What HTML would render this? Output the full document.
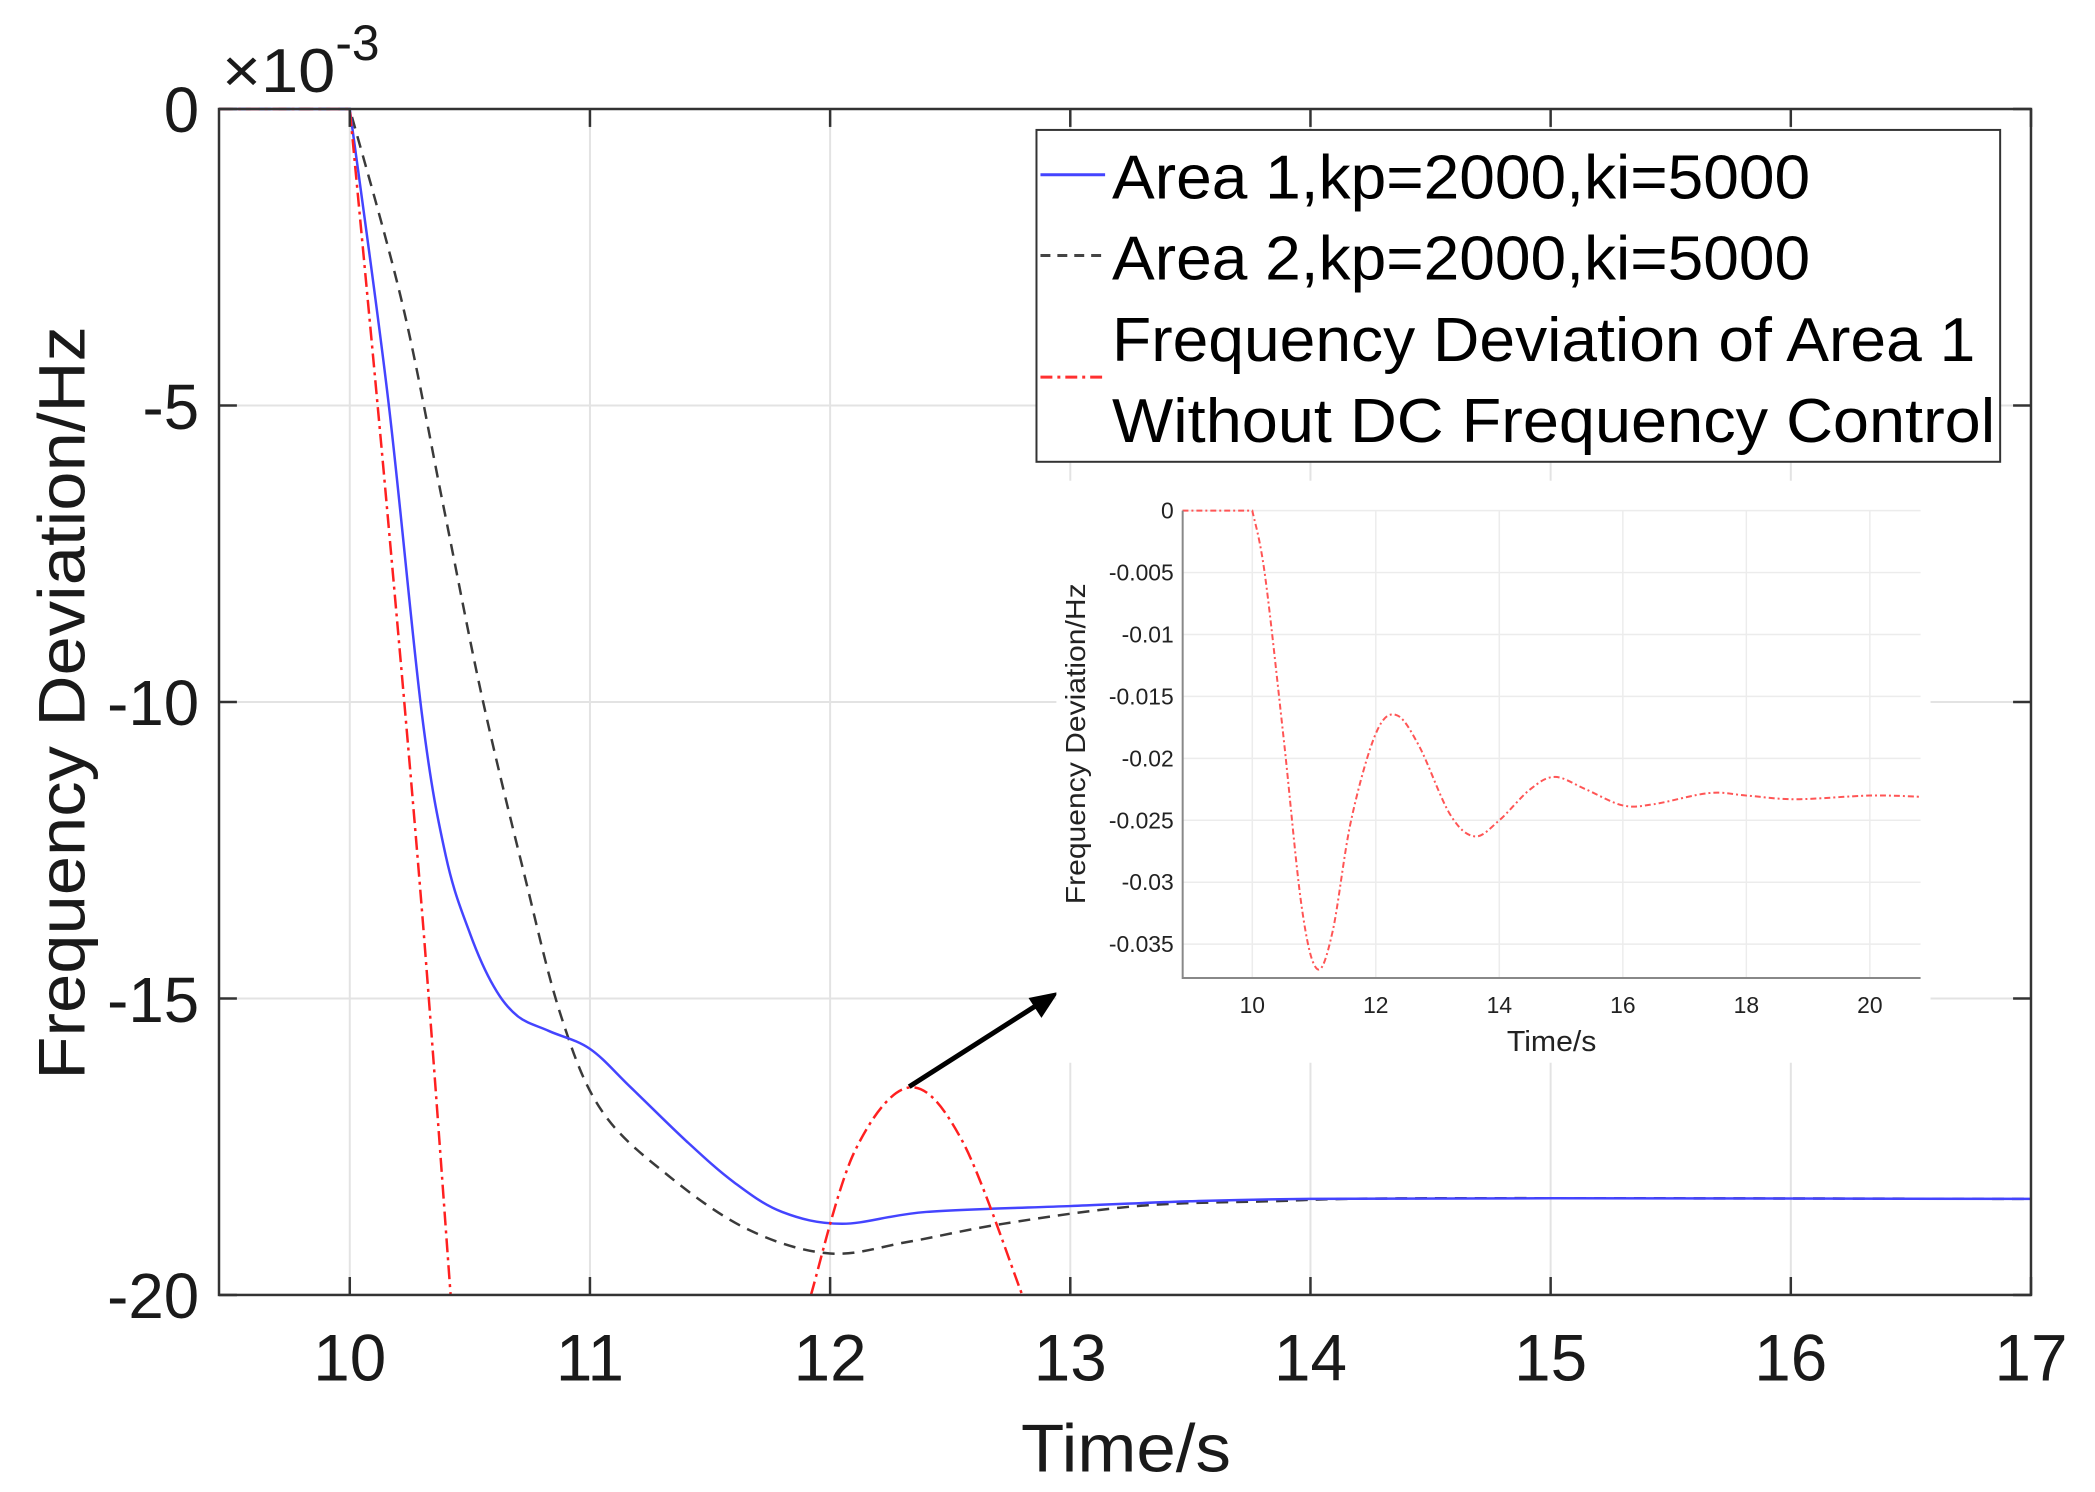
<!DOCTYPE html>
<html><head><meta charset="utf-8"><style>
html,body{margin:0;padding:0;background:#fff;width:2095px;height:1492px;overflow:hidden}
svg{display:block;font-family:"Liberation Sans",Arial,sans-serif}
</style></head><body>
<svg id="s" width="2095" height="1492" viewBox="0 0 2095 1492" xmlns="http://www.w3.org/2000/svg">
<rect width="2095" height="1492" fill="#fff"/>
<g transform="translate(219,109) scale(0.9945,0.9966) translate(-219,-111)">
<g id="grid" stroke="#e3e3e3" stroke-width="2"></g>
<g id="series"></g>
<rect x="219" y="111" width="1822" height="1190" fill="none" stroke="#333" stroke-width="2.5"/>
<g id="ticks" stroke="#333" stroke-width="2.5"></g>
<g font-size="64" fill="#1a1a1a" text-anchor="end">
<text x="199" y="134">0</text>
<text x="199" y="432">-5</text>
<text x="199" y="729">-10</text>
<text x="199" y="1027">-15</text>
<text x="199" y="1324">-20</text>
</g>
<g id="xl" font-size="66" fill="#1a1a1a" text-anchor="middle"></g>
<text x="222" y="94" font-size="62" fill="#1a1a1a" textLength="114" lengthAdjust="spacingAndGlyphs">×10</text>
<text x="336" y="62" font-size="50" fill="#1a1a1a">-3</text>
<text x="1131" y="1478" font-size="68" fill="#1a1a1a" text-anchor="middle" textLength="211" lengthAdjust="spacingAndGlyphs">Time/s</text>
<text transform="translate(84,707) rotate(-90)" font-size="66" fill="#1a1a1a" text-anchor="middle" textLength="756" lengthAdjust="spacingAndGlyphs">Frequency Deviation/Hz</text>
<!-- legend -->
<rect x="1041" y="132" width="969" height="333" fill="#fff" stroke="#333" stroke-width="2"/>
<line x1="1045" y1="177" x2="1110" y2="177" stroke="#4444ff" stroke-width="3"/>
<line x1="1045" y1="258" x2="1110" y2="258" stroke="#444" stroke-width="3" stroke-dasharray="10,7"/>
<line x1="1045" y1="380" x2="1110" y2="380" stroke="#ff3030" stroke-width="3" stroke-dasharray="12,5,3,5"/>
<g font-size="62" fill="#000">
<text x="1117" y="201" textLength="702" lengthAdjust="spacingAndGlyphs">Area 1,kp=2000,ki=5000</text>
<text x="1117" y="282" textLength="702" lengthAdjust="spacingAndGlyphs">Area 2,kp=2000,ki=5000</text>
<text x="1117" y="364" textLength="868" lengthAdjust="spacingAndGlyphs">Frequency Deviation of Area 1</text>
<text x="1117" y="445" textLength="888" lengthAdjust="spacingAndGlyphs">Without DC Frequency Control</text>
</g>
<!-- arrow -->
<line x1="913" y1="1092" x2="1048" y2="1006" stroke="#000" stroke-width="5"/>
<polygon points="1063,997 1033,1003 1046,1023" fill="#000"/>
<!-- inset -->
<rect x="1061" y="484" width="879" height="584" fill="#fff"/>
<g id="igrid" stroke="#ececec" stroke-width="1.5"></g>
<path id="ired" fill="none" stroke="#ff5555" stroke-width="2" stroke-dasharray="6,3,2,3"/>
<polyline points="1188,514 1188,983 1930,983" fill="none" stroke="#888" stroke-width="2"/>
<g id="iyl" font-size="23" fill="#222" text-anchor="end"></g>
<g id="ixl" font-size="23" fill="#222" text-anchor="middle"></g>
<text x="1559" y="1056" font-size="29" fill="#222" text-anchor="middle" textLength="90" lengthAdjust="spacingAndGlyphs">Time/s</text>
<text transform="translate(1090,748) rotate(-90)" font-size="28" fill="#222" text-anchor="middle" textLength="322" lengthAdjust="spacingAndGlyphs">Frequency Deviation/Hz</text>
</g>
</svg>
<script>
var NS="http://www.w3.org/2000/svg";
function el(p,t,a,txt){var e=document.createElementNS(NS,t);for(var k in a)e.setAttribute(k,a[k]);if(txt!=null)e.textContent=txt;document.getElementById(p).appendChild(e);return e;}
function X(t){return 350.5+(t-10)*241.5;}
function Y(v){return 111-v*59.5;}
for(var t=10;t<=16;t++){el("grid","line",{x1:X(t),y1:111,x2:X(t),y2:1301});}
for(var v=-5;v>=-15;v-=5){el("grid","line",{x1:219,y1:Y(v),x2:2041,y2:Y(v)});}
for(var t=10;t<=17;t++){el("ticks","line",{x1:X(t),y1:1301,x2:X(t),y2:1283});el("ticks","line",{x1:X(t),y1:111,x2:X(t),y2:129});el("xl","text",{x:X(t),y:1387},String(t));}
for(var v=0;v>=-20;v-=5){el("ticks","line",{x1:219,y1:Y(v),x2:237,y2:Y(v)});el("ticks","line",{x1:2041,y1:Y(v),x2:2023,y2:Y(v)});}
function cr(pre,pts,fx,fy){var d=pre+" L"+fx(pts[0][0])+","+fy(pts[0][1]);for(var i=0;i<pts.length-1;i++){var p0=pts[Math.max(0,i-1)],p1=pts[i],p2=pts[i+1],p3=pts[Math.min(pts.length-1,i+2)];
var c1x=p1[0]+(p2[0]-p0[0])/6,c1y=p1[1]+(p2[1]-p0[1])/6,c2x=p2[0]-(p3[0]-p1[0])/6,c2y=p2[1]-(p3[1]-p1[1])/6;
d+=" C"+fx(c1x)+","+fy(c1y)+" "+fx(c2x)+","+fy(c2y)+" "+fx(p2[0])+","+fy(p2[1]);}return d;}
var pf=function(v){return v.toFixed(1)};
var fX=function(t){return pf(X(t))},fY=function(v){return pf(Y(v))};
var start="M"+fX(9.455)+","+fY(0);
var blue=[[10,0],[10.16,-4.9],[10.3,-10.2],[10.4,-12.6],[10.5,-13.9],[10.6,-14.8],[10.7,-15.3],[10.83,-15.55],[11,-15.85],[11.17,-16.5],[11.4,-17.4],[11.6,-18.1],[11.8,-18.6],[12.05,-18.8],[12.4,-18.6],[13,-18.5],[13.5,-18.42],[14,-18.38],[15,-18.37],[17,-18.38]];
var black=[[10,0],[10.22,-3.3],[10.39,-6.7],[10.55,-9.9],[10.72,-12.8],[10.88,-15.3],[11.05,-16.9],[11.33,-18],[11.66,-18.9],[12,-19.3],[12.33,-19.1],[12.72,-18.8],[13.28,-18.5],[13.83,-18.42],[14.5,-18.37],[17,-18.38]];
var r1=[[10,0],[10.15,-6.5],[10.3,-13.5],[10.42,-20]];
var r2=[[11.92,-20],[12.1,-17.6],[12.33,-16.5],[12.55,-17.4],[12.8,-20]];
el("series","path",{d:cr(start,black,fX,fY),fill:"none",stroke:"#3a3a3a","stroke-width":2.5,"stroke-dasharray":"12,8"});
el("series","path",{d:cr(start,blue,fX,fY),fill:"none",stroke:"#4444ff","stroke-width":2.5});
el("series","path",{d:cr(start,r1,fX,fY),fill:"none",stroke:"#ff2020","stroke-width":2.5,"stroke-dasharray":"14,5,3,5"});
el("series","path",{d:cr("M"+fX(11.92)+","+fY(-20),r2,fX,fY),fill:"none",stroke:"#ff2020","stroke-width":2.5,"stroke-dasharray":"14,5,3,5"});
function IX(t){return 1258+(t-10)*62.1;}
function IY(v){return 514-v*(435/0.035);}
for(var t=10;t<=20;t+=2){el("igrid","line",{x1:IX(t),y1:514,x2:IX(t),y2:983});el("ixl","text",{x:IX(t),y:1018},String(t));}
var yl=["0","-0.005","-0.01","-0.015","-0.02","-0.025","-0.03","-0.035"];
for(var i=0;i<8;i++){var yy=IY(-0.005*i);el("igrid","line",{x1:1188,y1:yy,x2:1930,y2:yy});el("iyl","text",{x:1179,y:yy+8},yl[i]);}
var ir=[[10,0],[10.2,-0.005],[10.5,-0.018],[10.8,-0.032],[11.05,-0.037],[11.3,-0.034],[11.6,-0.025],[12,-0.018],[12.33,-0.0165],[12.7,-0.019],[13.2,-0.0245],[13.6,-0.0263],[14,-0.025],[14.5,-0.0225],[14.9,-0.0215],[15.4,-0.0225],[16,-0.0238],[16.5,-0.0237],[17.4,-0.0228],[18,-0.023],[18.8,-0.0233],[20,-0.023],[20.82,-0.0231]];
var fIX=function(t){return pf(IX(t))},fIY=function(v){return pf(IY(v))};
document.getElementById("ired").setAttribute("d",cr("M"+fIX(8.87)+","+fIY(0),ir,fIX,fIY));
</script>
</body></html>
